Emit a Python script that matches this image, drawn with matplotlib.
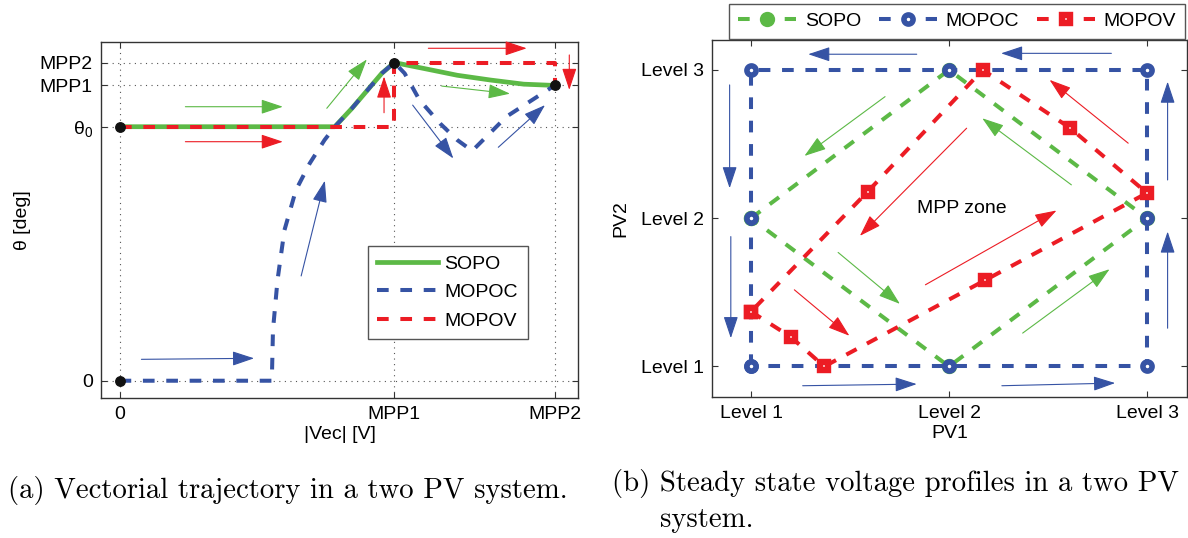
import matplotlib
matplotlib.use("Agg")
import matplotlib.pyplot as plt

"""
Two-PV system: vectorial trajectory (a) and steady state voltage profiles (b)
"""

plt.rcParams['font.family'] = ['Liberation Sans', 'DejaVu Sans']
plt.rcParams['mathtext.fontset'] = 'custom'
plt.rcParams['mathtext.rm'] = 'Liberation Sans'
plt.rcParams['mathtext.it'] = 'Liberation Sans'

GREEN = '#5cb946'
BLUE = '#3653a4'
RED = '#ec1c24'

# ---------------- panel (a) data ----------------
x_mpp1, x_mpp2 = 24, 38
th0, th_mpp1, th_mpp2 = 40, 46.5, 50.1
a_xticks = [0, x_mpp1, x_mpp2]
a_xticklabels = ['0', 'MPP1', 'MPP2']
a_yticks = [0, th0, th_mpp1, th_mpp2]
a_yticklabels = ['0', r'θ$_0$', 'MPP1', 'MPP2']

sopo_x = [0, 18.8, 20.3, 22.9, 24, 26.5, 29.5, 32.4, 35.3, 38]
sopo_y = [40, 40, 42.9, 48.4, 50.1, 49.2, 48.1, 47.35, 46.7, 46.5]
mopoc_x = [0, 13.3, 13.4, 13.8, 14.4, 15.4, 16.6, 17.9, 18.8, 20.3, 22.9, 24,
           24.9, 26.2, 28.0, 29.5, 30.8, 33.8, 38]
mopoc_y = [0, 0, 8.0, 15.9, 23.7, 30.0, 34.2, 37.9, 40, 42.9, 48.4, 50.1,
           48.4, 44.2, 40.5, 37.9, 36.2, 41.6, 46.5]
mopov_x = [0, 24, 24, 38, 38]
mopov_y = [40, 40, 50.1, 50.1, 46.5]
dots_x = [0, 0, 24, 38]
dots_y = [0, 40, 50.1, 46.5]

# arrows: (x0, y0, x1, y1)
a_green_arrows = [(5.75, 43.15, 14.26, 43.15), (18.1, 42.9, 21.6, 50.6),
                  (28.14, 46.4, 34.1, 45.2)]
a_red_arrows = [(5.75, 37.64, 14.26, 37.64), (23.1, 42.2, 23.1, 47.9),
                (26.97, 52.35, 35.56, 52.35), (39.28, 51.3, 39.28, 45.8)]
a_blue_arrows = [(15.86, 16.5, 17.93, 31.5), (1.91, 3.37, 11.75, 3.53),
                 (25.6, 43.4, 29.15, 35.0), (33.08, 36.76, 37.16, 43.4)]

# ---------------- panel (b) data ----------------
levels = [1, 2, 3]
level_labels = ['Level 1', 'Level 2', 'Level 3']
sopo_b_x = [1, 2, 3, 2, 1]
sopo_b_y = [2, 3, 2, 1, 2]
mopoc_b_x = [1, 1, 1, 2, 3, 3, 3, 2, 1]
mopoc_b_y = [1, 2, 3, 3, 3, 2, 1, 1, 1]
mopov_b_x = [1, 1.2, 1.37, 2.18, 3, 2.61, 2.17, 1.59, 1]
mopov_b_y = [1.37, 1.2, 1, 1.58, 2.17, 2.61, 3, 2.18, 1.37]

b_blue_arrows = [(1.837, 3.106, 1.289, 3.106), (2.82, 3.112, 2.263, 3.112),
                 (0.892, 2.899, 0.892, 2.202), (0.898, 1.876, 0.898, 1.191),
                 (1.261, 0.870, 1.837, 0.881), (2.267, 0.870, 2.839, 0.888),
                 (3.104, 1.258, 3.104, 1.910), (3.104, 2.258, 3.104, 2.921)]
b_green_arrows = [(1.677, 2.820, 1.270, 2.420), (2.618, 2.225, 2.168, 2.674),
                  (1.440, 1.769, 1.752, 1.422), (2.372, 1.225, 2.811, 1.656)]
b_red_arrows = [(2.905, 2.506, 2.508, 2.933), (2.089, 2.607, 1.550, 1.881),
                (1.219, 1.517, 1.497, 1.207), (1.881, 1.551, 2.543, 2.052)]

FS = 14
DASH = (2.9, 2.9)


def arrows(ax, lst, color):
    for x0, y0, x1, y1 in lst:
        ax.annotate('', xy=(x1, y1), xytext=(x0, y0),
                    arrowprops=dict(arrowstyle='-|>,head_length=1.35,head_width=0.45',
                                    mutation_scale=10, lw=0.8, color=color,
                                    shrinkA=0, shrinkB=0))


def style_axes(ax):
    ax.tick_params(direction='in', top=True, right=True, labelsize=FS, pad=6,
                   length=4, width=0.8, color='#333333')
    for s in ax.spines.values():
        s.set_color('#333333')
        s.set_linewidth(1.0)


fig = plt.figure(figsize=(11.88, 5.38), dpi=100)
W, H = 1188, 538

# ---------------- panel (a) ----------------
ax1 = fig.add_axes([101 / W, 1 - 398 / H, 477 / W, 356 / H])
ax1.plot(sopo_x, sopo_y, color=GREEN, lw=3.4, label='SOPO', zorder=3)
ax1.plot(mopoc_x, mopoc_y, color=BLUE, lw=2.9, dashes=DASH, label='MOPOC', zorder=4)
ax1.plot(mopov_x, mopov_y, color=RED, lw=2.9, dashes=DASH, label='MOPOV', zorder=5)
ax1.plot(dots_x, dots_y, 'o', color='#111111', ms=6.8, zorder=6)
arrows(ax1, a_green_arrows, GREEN)
arrows(ax1, a_red_arrows, RED)
arrows(ax1, a_blue_arrows, BLUE)
ax1.set_xlim(-1.62, 40.04)
ax1.set_ylim(-2.72, 53.34)
ax1.set_xticks(a_xticks)
ax1.set_xticklabels(a_xticklabels)
ax1.set_yticks(a_yticks)
ax1.set_yticklabels(a_yticklabels)
ax1.grid(True, linestyle=(0, (1, 4)), color='#555555', lw=0.8)
style_axes(ax1)
ax1.set_xlabel('|Vec| [V]', fontsize=FS, labelpad=2)
ax1.set_ylabel('θ [deg]', fontsize=FS, labelpad=6)
leg1 = ax1.legend(loc='lower left', bbox_to_anchor=(367.6 / W, 1 - 339.3 / H),
                  bbox_transform=fig.transFigure, fontsize=FS, fancybox=False,
                  edgecolor='#555555', framealpha=1, handlelength=3.1,
                  handletextpad=0.35, labelspacing=0.55, borderpad=0.5,
                  borderaxespad=0)
leg1.get_frame().set_linewidth(1.0)

# ---------------- panel (b) ----------------
ax2 = fig.add_axes([712 / W, 1 - 397 / H, 475 / W, 357 / H])
ax2.plot(sopo_b_x, sopo_b_y, color=GREEN, lw=2.9, dashes=DASH, marker='o',
         ms=9, mew=2.0, mfc=GREEN, mec=GREEN, label='SOPO', zorder=3)
ax2.plot(mopoc_b_x, mopoc_b_y, color=BLUE, lw=2.9, dashes=DASH, marker='o',
         ms=6.6, mew=4.0, mfc='white', mec=BLUE, label='MOPOC', zorder=4)
ax2.plot(mopov_b_x, mopov_b_y, color=RED, lw=2.9, dashes=DASH, marker='s',
         ms=5.8, mew=4.6, mfc='white', mec=RED, label='MOPOV', zorder=5)
arrows(ax2, b_blue_arrows, BLUE)
arrows(ax2, b_green_arrows, GREEN)
arrows(ax2, b_red_arrows, RED)
ax2.text(2.064, 2.067, 'MPP zone', fontsize=FS, ha='center', va='center')
ax2.set_xlim(0.803, 3.202)
ax2.set_ylim(0.794, 3.202)
ax2.set_xticks(levels)
ax2.set_xticklabels(level_labels)
ax2.set_yticks(levels)
ax2.set_yticklabels(level_labels)
style_axes(ax2)
ax2.set_xlabel('PV1', fontsize=FS, labelpad=2)
ax2.set_ylabel('PV2', fontsize=FS, labelpad=8)
leg2 = ax2.legend(loc='lower left', bbox_to_anchor=(729 / W, 1 - 39 / H),
                  bbox_transform=fig.transFigure, ncol=3, fontsize=FS,
                  fancybox=False, edgecolor='#555555', framealpha=1,
                  handlelength=3.0, handletextpad=0.45, columnspacing=0.9,
                  borderpad=0.45, borderaxespad=0, numpoints=1)
leg2.get_frame().set_linewidth(1.0)

# ---------------- captions ----------------
fig.text(8 / W, 1 - 490 / H, '(a) Vectorial trajectory in a two PV system.',
         family='cmr10', fontsize=20.7, va='center', ha='left')
fig.text(612 / W, 1 - 483 / H, '(b) Steady state voltage profiles in a two PV',
         family='cmr10', fontsize=20.7, va='center', ha='left')
fig.text(660 / W, 1 - 520 / H, 'system.',
         family='cmr10', fontsize=20.7, va='center', ha='left')

fig.savefig('out.png', dpi=100)
